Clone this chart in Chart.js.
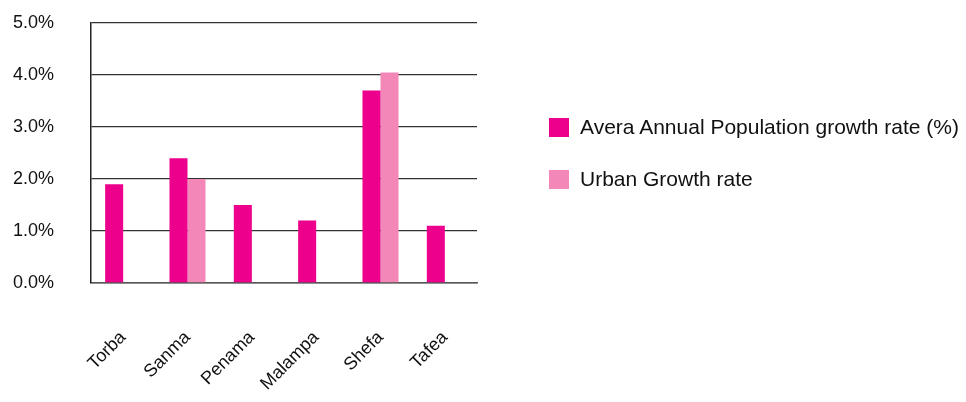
<!DOCTYPE html>
<html>
<head>
<meta charset="utf-8">
<script src="https://cdn.jsdelivr.net/npm/chart.js@4/dist/chart.umd.min.js"></script>
<style>
  html, body { margin: 0; padding: 0; background: #ffffff; }
  #wrap { position: relative; width: 966px; height: 402px; }
  #chart { position: absolute; left: 0; top: 0; }
  .legend { position: absolute; left: 549px; font-family: "Liberation Sans", Arial, sans-serif;
            font-size: 21px; color: #111; white-space: nowrap; }
  .legend .row { position: absolute; left: 0; height: 20px; display: flex; align-items: center; }
  .legend .sw { width: 20px; height: 19px; margin-right: 11px; }
</style>
</head>
<body>
<div id="wrap">
  <canvas id="chart" width="966" height="402"></canvas>
  <div class="legend" id="legend"></div>
</div>
<script>
// Provinces
const provinces = ['Torba', 'Sanma', 'Penama', 'Malampa', 'Shefa', 'Tafea'];
// Average annual population growth rate (%)
const annualGrowth = [1.9, 2.4, 1.5, 1.2, 3.7, 1.1];
// Urban growth rate (%), only for provinces with urban centres
const urbanGrowth = [null, 2.0, null, null, 4.05, null];
const seriesNames = ['Avera Annual Population growth rate (%)', 'Urban Growth rate'];
const seriesColors = ['#EC008C', '#F287B8'];
const yTicks = [0, 1, 2, 3, 4, 5];

const font = "'Liberation Sans', Arial, sans-serif";

new Chart(document.getElementById('chart'), {
  type: 'bar',
  data: {
    labels: provinces,
    datasets: [
      { label: seriesNames[0], data: annualGrowth, backgroundColor: seriesColors[0], borderWidth: 0 },
      { label: seriesNames[1], data: urbanGrowth, backgroundColor: seriesColors[1], borderWidth: 0 }
    ]
  },
  options: {
    responsive: false,
    animation: false,
    layout: { padding: { left: 0, right: 489, top: 23, bottom: 0 } },
    datasets: { bar: { categoryPercentage: 0.56, barPercentage: 1.0 } },
    plugins: { legend: { display: false }, tooltip: { enabled: false } },
    scales: {
      x: {
        grid: { display: false, drawTicks: false },
        border: { display: true, color: '#555', width: 1.5 },
        ticks: {
          font: { family: font, size: 18 }, color: '#111',
          minRotation: 45, maxRotation: 45, padding: 44, autoSkip: false
        },
        afterFit(scale) {
          scale.height = 402 - 283;
          scale.paddingTop = 0; scale.paddingBottom = 0;
        }
      },
      y: {
        min: 0, max: 5,
        afterBuildTicks(scale) { scale.ticks = yTicks.map(v => ({ value: v })); },
        grid: { color: '#333', lineWidth: 1.3, drawTicks: false },
        border: { display: true, color: '#222', width: 1.5 },
        ticks: {
          font: { family: font, size: 18 }, color: '#111', padding: 37,
          callback: v => Number(v).toFixed(1) + '%'
        },
        afterFit(scale) {
          scale.width = 91;
          scale.paddingTop = 0; scale.paddingBottom = 0;
        }
      }
    }
  }
});

// Legend on the right
const legend = document.getElementById('legend');
const rowTops = [117, 169];
seriesNames.forEach((name, i) => {
  const row = document.createElement('div');
  row.className = 'row';
  row.style.top = rowTops[i] + 'px';
  const sw = document.createElement('span');
  sw.className = 'sw';
  sw.style.background = seriesColors[i];
  const txt = document.createElement('span');
  txt.textContent = name;
  row.appendChild(sw);
  row.appendChild(txt);
  legend.appendChild(row);
});
</script>
</body>
</html>
